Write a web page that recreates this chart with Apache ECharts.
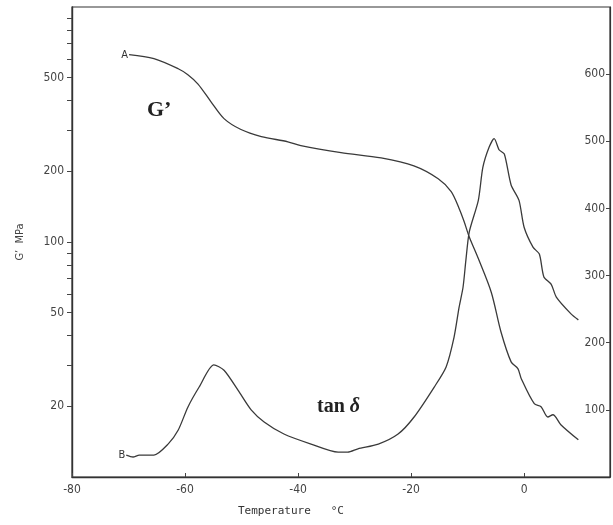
<!DOCTYPE html>
<html>
<head>
<meta charset="utf-8">
<script src="https://cdn.jsdelivr.net/npm/echarts@6/dist/echarts.min.js"></script>
<style>
  html, body { margin: 0; padding: 0; background: #fff; }
  #chart { width: 613px; height: 525px; }
</style>
</head>
<body>
<div id="chart"></div>
<script>
// Storage modulus G' (MPa, log scale) against temperature (°C)
const gTemp = [-69.9, -65.5, -61.2, -59.5, -57.7, -55.4, -53.1, -50.1, -46.5, -41.8, -39.5, -32.4, -25.3, -19.5, -15.2, -12.9, -11.5, -10.6, -9.7, -8.1, -5.8, -4.1, -2.3, -1.1, -0.5, 1.8, 3.0, 4.2, 5.1, 6.5, 9.6];
const gModulus = [627, 603, 546, 515, 470, 395, 335, 301, 281, 267, 257, 240, 228, 211, 186, 164, 139, 122, 105, 85, 61, 41.5, 30.9, 28.9, 26.2, 20.5, 19.9, 18.0, 18.4, 16.7, 14.4];

// Loss tangent (×1000, right axis) against temperature (°C)
const tanTemp = [-70.4, -69.2, -68.1, -65.5, -63.0, -61.2, -59.5, -57.5, -54.9, -53.1, -50.6, -48.3, -46.0, -42.5, -37.7, -32.9, -31.2, -29.4, -25.8, -22.3, -19.5, -15.9, -13.8, -12.4, -11.5, -10.8, -10.3, -9.7, -8.1, -7.3, -6.2, -5.3, -4.4, -3.5, -2.3, -0.9, 0, 1.6, 2.7, 3.5, 4.8, 5.7, 8.3, 9.6];
const tanDelta = [32.7, 29.8, 32.7, 32.7, 49, 70, 104, 134, 167, 159, 129, 100, 82, 64, 49, 37, 37, 42, 49, 64, 89, 134, 164, 208, 253, 283, 323, 365, 412, 461, 491, 504, 487, 481, 435, 412, 372, 342, 332, 298, 287, 268, 243, 234];

// Axis ticks and labels
const xTicks = [-80, -60, -40, -20, 0];
const leftLabels = [20, 50, 100, 200, 500];
const leftTicks = [20, 30, 40, 50, 60, 70, 80, 90, 100, 200, 300, 400, 500, 600, 700, 800, 900];
const rightTicks = [100, 200, 300, 400, 500, 600];

const ink = '#3a3a3a';
const labelFont = 'DejaVu Sans Condensed';

function zip(xs, ys) { return xs.map((x, i) => [x, ys[i]]); }

// The first point of each curve carries its curve letter
function withStartLabel(points, text) {
  return points.map((p, i) => i === 0 ? {
    value: p,
    label: { show: true, position: 'left', distance: 1, formatter: text,
             color: '#333', fontFamily: labelFont, fontSize: 11 }
  } : p);
}

const chart = echarts.init(document.getElementById('chart'), null, { renderer: 'canvas' });

chart.setOption({
  animation: false,
  backgroundColor: '#fff',
  grid: { left: 72, right: 3, top: 7, bottom: 48, show: true, borderColor: '#333', borderWidth: 1.2 },
  xAxis: {
    type: 'value', min: -80, max: 15.2,
    axisLine: { onZero: false, lineStyle: { color: '#333', width: 1.4 } },
    axisTick: { inside: true, length: 4, customValues: xTicks, lineStyle: { color: '#444' } },
    axisLabel: { customValues: xTicks, color: '#444', fontFamily: labelFont, fontSize: 12, margin: 7 },
    splitLine: { show: false }
  },
  yAxis: [
    {
      type: 'log', logBase: 10, min: 10, max: 1000, position: 'left',
      name: 'G\u2019  MPa', nameLocation: 'middle', nameGap: 46, nameRotate: 90,
      nameTextStyle: { color: '#444', fontFamily: labelFont, fontSize: 11 },
      axisLine: { show: true, onZero: false, lineStyle: { color: '#333', width: 1.4 } },
      axisTick: { show: true, length: 5, customValues: leftTicks, lineStyle: { color: '#444' } },
      axisLabel: { customValues: leftLabels, color: '#444', fontFamily: labelFont, fontSize: 12, margin: 8 },
      splitLine: { show: false }
    },
    {
      type: 'value', min: 0, max: 700, position: 'right',
      axisLine: { show: true, onZero: false, lineStyle: { color: '#333', width: 1.2 } },
      axisTick: { show: true, inside: true, length: 4, customValues: rightTicks, lineStyle: { color: '#444' } },
      axisLabel: { inside: true, customValues: rightTicks, color: '#444', fontFamily: labelFont, fontSize: 12, margin: 5 },
      splitLine: { show: false }
    }
  ],
  series: [
    {
      name: 'G\u2019', type: 'line', yAxisIndex: 0, showSymbol: true, symbol: 'circle', symbolSize: 0.01,
      smooth: 0.3,
      lineStyle: { color: ink, width: 1.3 },
      itemStyle: { color: ink },
      label: { show: false },
      data: withStartLabel(zip(gTemp, gModulus), 'A')
    },
    {
      name: 'tan \u03b4', type: 'line', yAxisIndex: 1, showSymbol: true, symbol: 'circle', symbolSize: 0.01,
      smooth: 0.25,
      lineStyle: { color: ink, width: 1.3 },
      itemStyle: { color: ink },
      label: { show: false },
      data: withStartLabel(zip(tanTemp, tanDelta), 'B')
    }
  ],
  graphic: [
    {
      type: 'text', left: 238, top: 506,
      style: { text: 'Temperature   \u00b0C', fill: '#333', font: '11px "DejaVu Sans Mono"' }
    },
    {
      type: 'text', left: 147, top: 99,
      style: { text: 'G\u2019', fill: '#222', font: 'bold 22px "Liberation Serif"' }
    },
    {
      type: 'text', left: 317, top: 397,
      style: {
        text: '{a|tan }{b|\u03b4}',
        rich: {
          a: { fill: '#222', font: 'bold 20px "Liberation Serif"' },
          b: { fill: '#222', font: 'bold italic 20px "Liberation Serif"' }
        }
      }
    }
  ]
});
</script>
</body>
</html>
